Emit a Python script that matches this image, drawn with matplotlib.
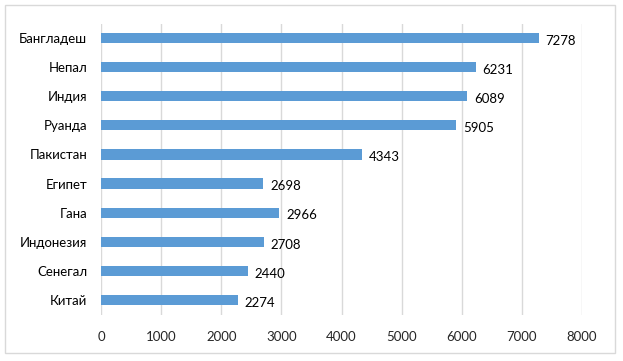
import matplotlib
matplotlib.use("Agg")
import matplotlib.pyplot as plt
from matplotlib.patches import Rectangle

countries = ["Бангладеш", "Непал", "Индия", "Руанда", "Пакистан",
             "Египет", "Гана", "Индонезия", "Сенегал", "Китай"]
values = [7278, 6231, 6089, 5905, 4343, 2698, 2966, 2708, 2440, 2274]
xticks = [0, 1000, 2000, 3000, 4000, 5000, 6000, 7000, 8000]

plt.rcParams['font.family'] = ['Lato', 'DejaVu Sans']

W, H = 623, 361
fig = plt.figure(figsize=(W/100, H/100), dpi=100)
fig.patch.set_facecolor('white')
fig.patches.append(Rectangle((5/W, 1 - 353/H), 610/W, 348/H, transform=fig.transFigure,
                             fill=False, edgecolor='#D9D9D9', linewidth=1))

ax = fig.add_axes([101/W, 1 - 314.5/H, 481/W, 291/H])
n = len(countries)
ypos = list(range(n))
ax.barh(ypos, values, height=0.35, color='#5B9BD5', zorder=3)
ax.set_ylim(n - 0.5, -0.5)
ax.set_xlim(0, 8000)
ax.set_xticks(xticks)
ax.set_xticklabels([str(t) for t in xticks], fontsize=9.5, color='#262626')
ax.set_yticks(ypos)
ax.set_yticklabels(countries, fontsize=9.5, color='#000000')
ax.tick_params(axis='both', length=0)
ax.tick_params(axis='x', pad=12)
ax.tick_params(axis='y', pad=10)
ax.grid(axis='x', color='#D9D9D9', linewidth=1, zorder=0)
for s in ax.spines.values():
    s.set_visible(False)
for y, v in zip(ypos, values):
    ax.annotate(str(v), (v, y), xytext=(5, -2), textcoords='offset points',
                va='center', ha='left', fontsize=9.5, color='#000000')

fig.savefig('out.png', dpi=100)
